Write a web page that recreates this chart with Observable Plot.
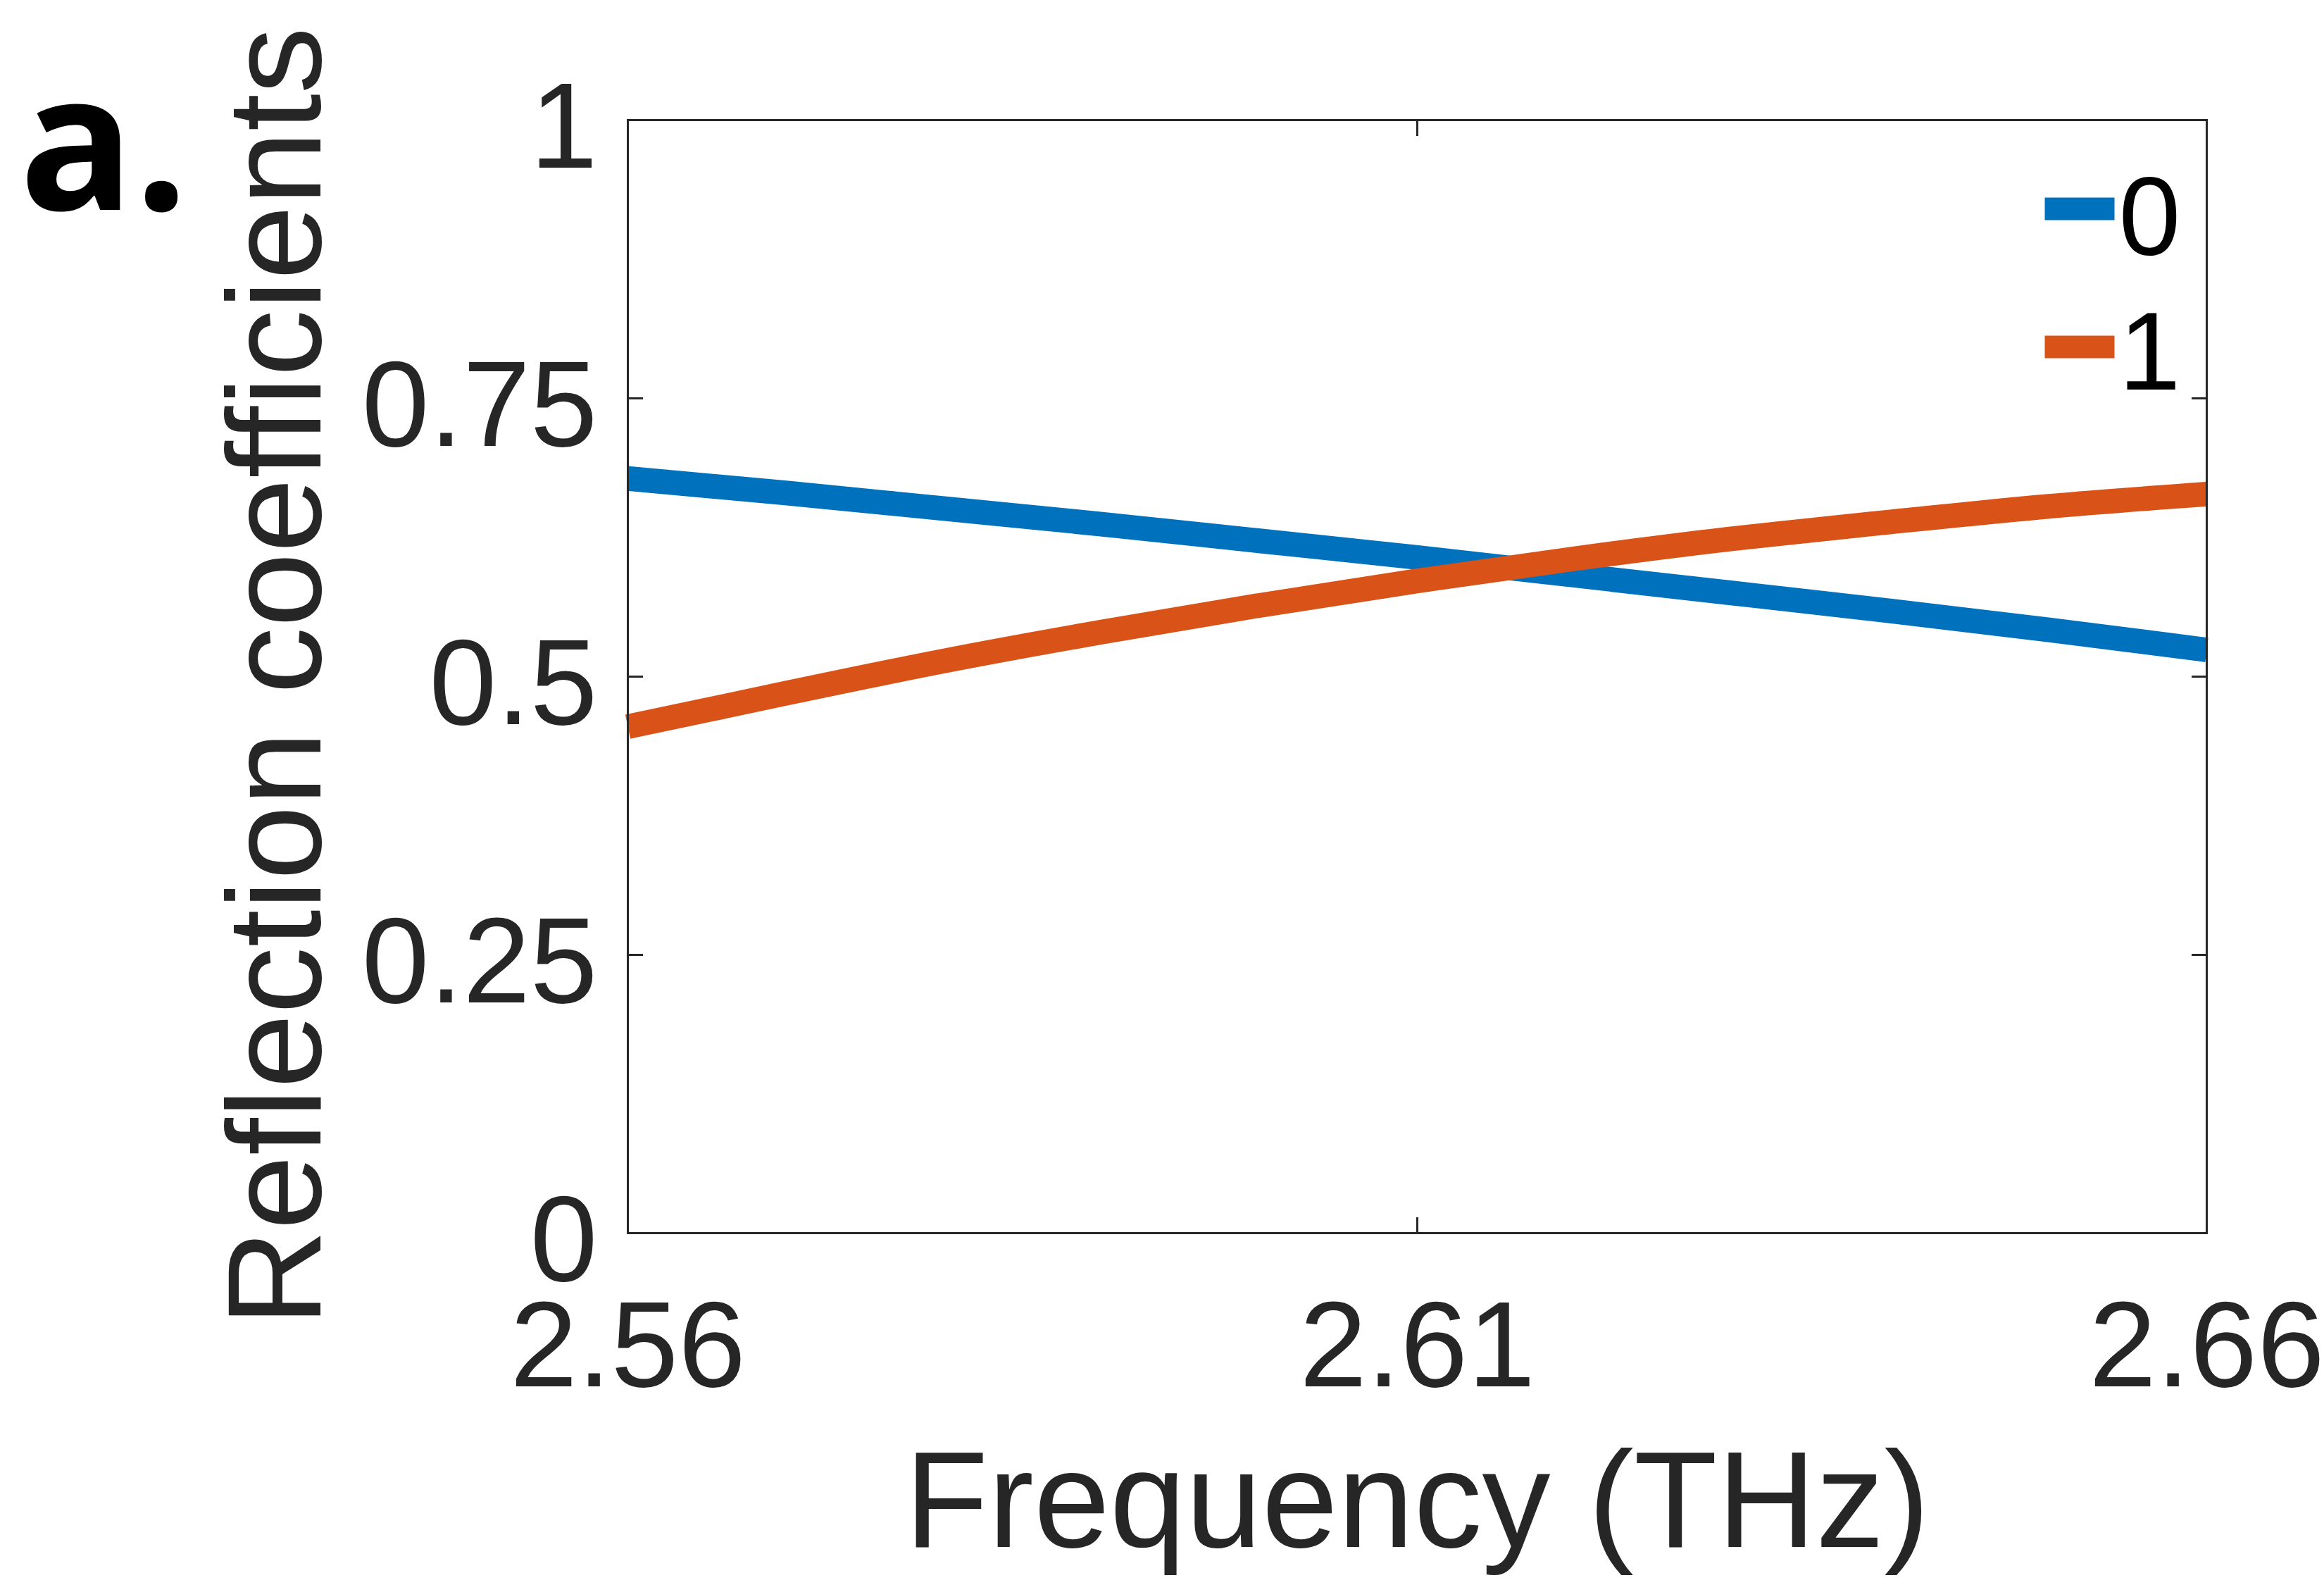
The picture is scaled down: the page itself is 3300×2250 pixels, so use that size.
<!DOCTYPE html>
<html>
<head>
<meta charset="utf-8">
<script src="https://cdn.jsdelivr.net/npm/d3@7"></script>
<script src="https://cdn.jsdelivr.net/npm/@observablehq/plot@0.6"></script>
<style>
  html, body { margin: 0; padding: 0; background: #ffffff; overflow: hidden; }
</style>
</head>
<body>
<div id="chart"></div>
<script>
// Frequency samples (THz)
const freq = [2.56, 2.57, 2.58, 2.59, 2.60, 2.61, 2.62, 2.63, 2.64, 2.65, 2.66];
// Reflection coefficient, state "0" (blue)
const refl0 = [0.678, 0.665, 0.651, 0.637, 0.622, 0.607, 0.591, 0.575, 0.559, 0.542, 0.524];
// Reflection coefficient, state "1" (orange)
const refl1 = [0.455, 0.485, 0.514, 0.540, 0.564, 0.586, 0.606, 0.624, 0.639, 0.653, 0.664];

const seriesNames = ["0", "1"];
const seriesColors = ["#0072BD", "#D95319"];
const xTicks = [2.56, 2.61, 2.66];
const yTicks = [0, 0.25, 0.5, 0.75, 1];
const xLabel = "Frequency (THz)";
const yLabel = "Reflection coefficients";
const panelLabel = "a.";

const data = [
  ...freq.map((f, i) => ({f, r: refl0[i], s: seriesNames[0]})),
  ...freq.map((f, i) => ({f, r: refl1[i], s: seriesNames[1]}))
];

const axisColor = "#262626";
const lineShape = {draw(context, l) { context.moveTo(0, 0); context.lineTo(0, -l); }};

const chart = Plot.plot({
  width: 3300,
  height: 2250,
  marginLeft: 891,
  marginRight: 167,
  marginTop: 170,
  marginBottom: 500,
  style: {
    fontFamily: "'Liberation Sans', Arial, sans-serif",
    fontSize: "172px",
    color: axisColor,
    background: "#ffffff"
  },
  x: {domain: [2.56, 2.66], label: null},
  y: {domain: [0, 1], label: null},
  color: {domain: seriesNames, range: seriesColors},
  marks: [
    Plot.line(data, {
      x: "f", y: "r", stroke: "s", z: "s",
      strokeWidth: 35, curve: "natural",
      strokeLinecap: "butt", strokeLinejoin: "round"
    }),
    Plot.frame({stroke: axisColor, strokeWidth: 3}),
    // inward ticks on all four sides
    Plot.axisX({anchor: "bottom", ticks: xTicks, tickSize: -22, tickFormat: () => "", strokeWidth: 3}),
    Plot.axisX({anchor: "top", ticks: xTicks, tickSize: -22, tickFormat: () => "", strokeWidth: 3}),
    Plot.axisY({anchor: "left", ticks: yTicks, tickSize: -22, tickFormat: () => "", strokeWidth: 3}),
    Plot.axisY({anchor: "right", ticks: yTicks, tickSize: -22, tickFormat: () => "", strokeWidth: 3}),
    // tick labels
    Plot.axisX({anchor: "bottom", ticks: xTicks, tickSize: 0, tickPadding: 95,
      tickFormat: d3.format(".2f"), fontSize: 172, stroke: null}),
    Plot.axisY({anchor: "left", ticks: yTicks, tickSize: 0, tickPadding: 43, dy: 12,
      tickFormat: d => String(d), fontSize: 172, stroke: null}),
    // axis titles
    Plot.text([yLabel], {
      text: d => d, frameAnchor: "left", dx: -497, rotate: -90,
      fontSize: 190, textAnchor: "middle", lineAnchor: "middle", fill: axisColor
    }),
    Plot.text([xLabel], {
      text: d => d, frameAnchor: "bottom", dy: 383,
      fontSize: 194, textAnchor: "middle", lineAnchor: "middle", fill: axisColor
    }),
    // panel label
    Plot.text([panelLabel], {
      text: d => d, frameAnchor: "top-left", dx: -864, dy: 41,
      textAnchor: "start", lineAnchor: "middle",
      fontSize: 270, fontWeight: "bold", fontFamily: "'Open Sans', 'Noto Sans', sans-serif", fill: "#000000"
    }),
    // legend
    Plot.vector([seriesNames[0]], {
      frameAnchor: "top-right", dx: -230, dy: 126, length: 99, rotate: 90, anchor: "start",
      shape: lineShape, stroke: seriesColors[0], strokeWidth: 32, strokeLinecap: "butt"
    }),
    Plot.vector([seriesNames[1]], {
      frameAnchor: "top-right", dx: -230, dy: 322, length: 99, rotate: 90, anchor: "start",
      shape: lineShape, stroke: seriesColors[1], strokeWidth: 32, strokeLinecap: "butt"
    }),
    Plot.text([seriesNames[0]], {
      text: d => d, frameAnchor: "top-right", dx: -125, dy: 140,
      textAnchor: "start", lineAnchor: "middle", fontSize: 158, fill: "#000000"
    }),
    Plot.text([seriesNames[1]], {
      text: d => d, frameAnchor: "top-right", dx: -125, dy: 332,
      textAnchor: "start", lineAnchor: "middle", fontSize: 158, fill: "#000000"
    })
  ]
});

document.getElementById("chart").appendChild(chart);
</script>
</body>
</html>
